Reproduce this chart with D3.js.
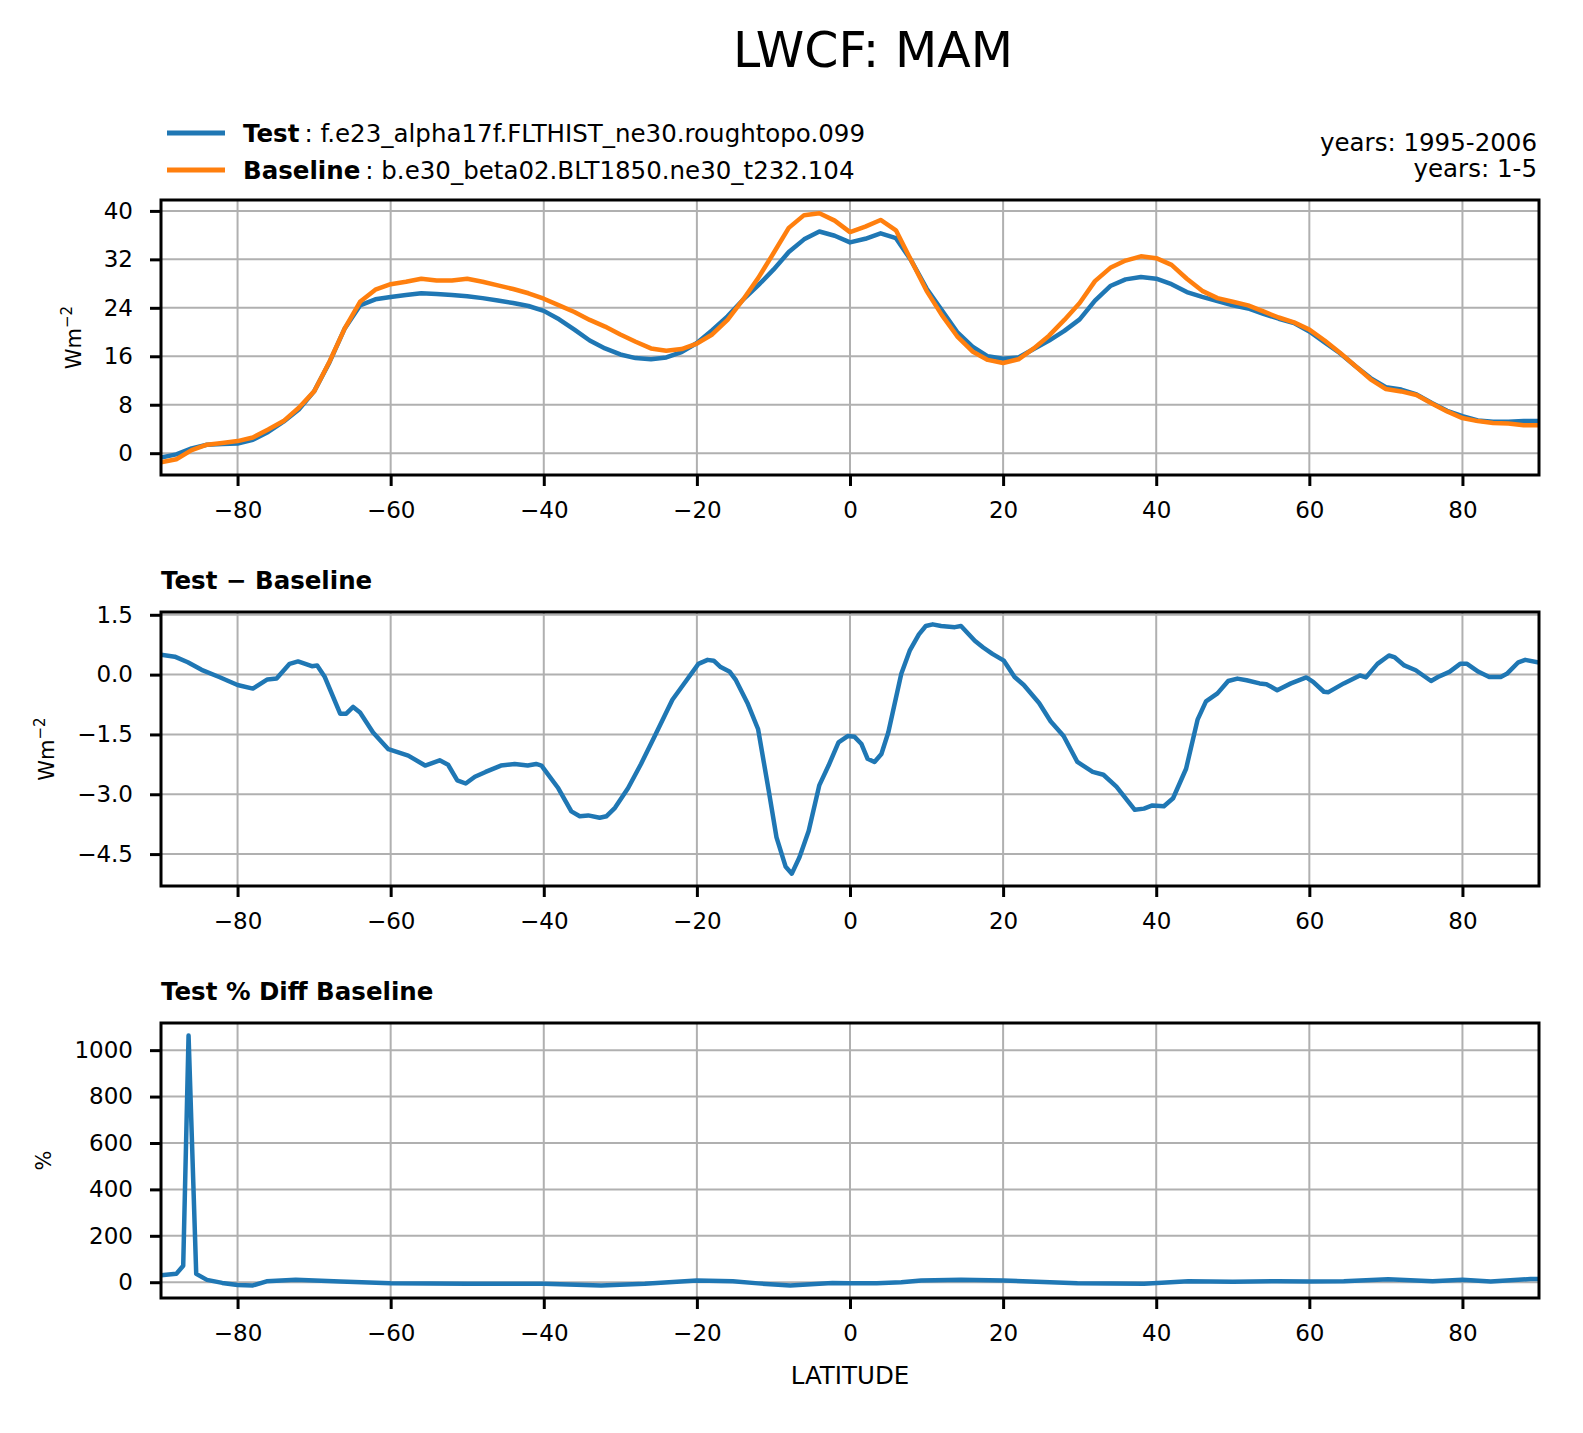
<!DOCTYPE html>
<html lang="en">
<head>
  <meta charset="UTF-8">
  <title>LWCF: MAM</title>
  <style>
    html, body { margin: 0; padding: 0; background: #fff; }
    svg { display: block; font-family: "DejaVu Sans", sans-serif; }
  </style>
</head>
<body>
  <svg id="chart"></svg>

  <script src="https://cdn.jsdelivr.net/npm/d3@7"></script>
  <script>
    // zonal means
    const latitudes = [-90,-88,-86,-84,-82,-80,-78,-76,-74,-72,-70,-68,-66,-64,-62,-60,-58,-56,-54,-52,-50,-48,-46,-44,-42,-40,
      -38,-36,-34,-32,-30,-28,-26,-24,-22,-20,-18,-16,-14,-12,-10,-8,-6,-4,-2,0,2,4,6,8,10,12,14,16,18,20,22,24,26,28,30,
      32,34,36,38,40,42,44,46,48,50,52,54,56,58,60,62,64,66,68,70,72,74,76,78,80,82,84,86,88,90]
    const testLWCF = [-0.7,-0.2,0.8,1.4,1.5,1.6,2.2,3.5,5.2,7.2,10.2,15.0,20.6,24.4,25.4,25.8,26.1,26.4,26.3,26.1,25.9,25.6,25.2,24.8,24.3,23.5,
      22.1,20.4,18.6,17.3,16.3,15.7,15.5,15.8,16.7,18.2,20.3,22.6,25.3,27.7,30.3,33.2,35.3,36.6,35.9,34.8,35.4,36.3,35.5,31.8,27.2,23.6,20.0,17.6,16.0,15.6,15.8,17.2,18.6,20.2,22.1,
      25.2,27.6,28.7,29.1,28.8,27.9,26.6,25.8,25.1,24.4,23.9,23.0,22.2,21.5,20.1,18.3,16.5,14.4,12.4,10.9,10.5,9.7,8.3,7.0,6.1,5.4,5.2,5.2,5.3,5.3]
    const baseLWCF = [-1.5,-1.0,0.5,1.4,1.7,2.0,2.6,3.9,5.3,7.5,10.2,15.1,20.6,25.0,27.0,27.9,28.3,28.8,28.5,28.5,28.8,28.3,27.7,27.1,26.4,25.5,
      24.4,23.3,22.0,20.9,19.6,18.4,17.3,16.9,17.2,18.1,19.6,22.0,25.3,28.9,33.0,37.2,39.3,39.6,38.4,36.5,37.4,38.5,36.8,31.8,26.8,22.8,19.3,16.8,15.4,14.9,15.5,17.3,19.4,22.0,24.8,
      28.4,30.6,31.8,32.5,32.2,31.1,28.8,26.8,25.6,25.0,24.4,23.4,22.4,21.6,20.4,18.6,16.6,14.4,12.2,10.6,10.2,9.6,8.2,6.9,5.8,5.3,5.0,4.9,4.6,4.6]

    const diffLat = [-90,-88.2,-86.5,-84.7,-82.4,-80,-78,-76.1,-74.9,-73.2,-72.1,-70.3,-69.6,-68.6,-66.6,-65.8,-64.9,-64,-62.3,-60.3,
      -57.7,-55.5,-53.6,-52.5,-51.3,-50.2,-49,-47.6,-45.6,-43.8,-42.1,-41,-40.3,-38.1,-36.4,-35.3,-34.2,-32.7,-31.8,-30.7,
      -29,-27.3,-25.5,-23.2,-21.8,-19.8,-18.6,-17.8,-16.9,-15.7,-14.9,-13.4,-12,-10.6,-9.6,-8.4,-7.6,-6.6,-5.4,-4,
      -2.8,-1.5,-0.3,0.6,1.5,2.3,3.2,4.1,5,6.7,7.8,9,9.9,10.8,11.9,13.7,14.5,16.3,17.4,18.6,
      20.1,21.5,22.7,24.7,26.2,27.9,29.7,31.7,33.1,34.8,37.2,38.4,39.5,41,42.2,43.9,45.4,46.5,48,49.4,
      50.6,51.8,53.5,54.4,55.8,57.6,59.6,60.5,61.9,62.5,64.5,66.6,67.4,68.9,70.4,71.1,72.4,73.9,75.9,76.8,
      78.3,79.7,80.6,82.1,83.5,85,85.8,87.3,88.2,90]
    const diffLWCF = [0.50,0.45,0.31,0.12,-0.06,-0.26,-0.35,-0.12,-0.10,0.27,0.33,0.21,0.23,-0.06,-0.98,-0.98,-0.81,-0.95,-1.45,-1.87,
      -2.03,-2.28,-2.15,-2.26,-2.65,-2.73,-2.56,-2.44,-2.28,-2.24,-2.28,-2.24,-2.28,-2.85,-3.43,-3.55,-3.53,-3.59,-3.55,-3.34,
      -2.85,-2.24,-1.54,-0.63,-0.26,0.27,0.37,0.35,0.19,0.07,-0.14,-0.71,-1.37,-2.93,-4.08,-4.82,-4.99,-4.58,-3.92,-2.77,
      -2.28,-1.70,-1.54,-1.56,-1.74,-2.11,-2.19,-1.99,-1.45,0.02,0.60,1.01,1.22,1.26,1.22,1.19,1.22,0.85,0.68,0.52,
      0.35,-0.06,-0.26,-0.71,-1.17,-1.54,-2.19,-2.44,-2.51,-2.81,-3.39,-3.36,-3.28,-3.30,-3.10,-2.36,-1.13,-0.67,-0.47,-0.16,
      -0.10,-0.14,-0.22,-0.24,-0.39,-0.22,-0.07,-0.18,-0.43,-0.44,-0.22,-0.02,-0.07,0.27,0.48,0.44,0.23,0.11,-0.16,-0.06,
      0.07,0.27,0.27,0.07,-0.06,-0.06,0.02,0.31,0.37,0.30]

    const pctLat = [-90,-88,-87.1,-86.4,-85.4,-84,-82,-80,-78,-76.2,-72.4,-66.6,-60,-50,-40,-32.5,-26.8,-20,-15.3,-12,
      -7.8,-4,-2.3,0,3.5,6.7,9.3,14.5,20,29.7,38.4,44.2,50,55.8,60,64.5,70.3,76.1,80,83.7,88.9,90]
    const pctDiff = [30,36,71,1063,36,10,-3,-12,-14,4,11,3,-4,-7,-7,-14,-7,7,4,-5,
      -14,-7,-3,-4,-4,0,7,11,7,-4,-7,4,2,4,3,4,13,4,11,3,14,14]

    const latTicks = [-80, -60, -40, -20, 0, 20, 40, 60, 80]
    const topTicks = [0, 8, 16, 24, 32, 40]
    const diffTicks = [-4.5, -3.0, -1.5, 0.0, 1.5]
    const pctTicks = [0, 200, 400, 600, 800, 1000]

    const legendNames = ['Test', 'Baseline']
    const legendCases = ['f.e23_alpha17f.FLTHIST_ne30.roughtopo.099', 'b.e30_beta02.BLT1850.ne30_t232.104']
    const yearLabels = ['years: 1995-2006', 'years: 1-5']

    const blue = '#1f77b4'
    const orange = '#ff7f0e'
    const W = 1583, H = 1433
    const left = 161, right = 1539
    const tickFont = 23
    const textFont = 24.5

    const svg = d3.select('#chart').attr('width', W).attr('height', H)
    const x = d3.scaleLinear().domain([-90, 90]).range([left, right])

    svg.append('text')
      .attr('x', 873).attr('y', 50)
      .attr('text-anchor', 'middle').attr('dominant-baseline', 'central')
      .attr('font-size', 49)
      .text('LWCF: MAM')

    // legend
    const legend = svg.append('g')
    legendNames.forEach((name, i) => {
      const ly = 133 + i * 37
      legend.append('line')
        .attr('x1', 167).attr('x2', 225).attr('y1', ly).attr('y2', ly)
        .attr('stroke', i === 0 ? blue : orange).attr('stroke-width', 5)
      const t = legend.append('text')
        .attr('x', 243).attr('y', ly).attr('dominant-baseline', 'central')
        .attr('font-size', textFont)
      t.append('tspan').attr('font-weight', 'bold').text(name)
      t.append('tspan').attr('dx', 5).text(': ' + legendCases[i])
    })
    yearLabels.forEach((s, i) => {
      svg.append('text')
        .attr('x', 1537).attr('y', 142 + i * 26)
        .attr('text-anchor', 'end').attr('dominant-baseline', 'central')
        .attr('font-size', textFont)
        .text(s)
    })

    const panels = [
      {id: 'top', top: 200, bottom: 475, domain: [-3.6, 41.8], ticks: topTicks, fmt: d3.format('d'),
        unit: 'Wm', sup: '\u22122',
        series: [[latitudes, testLWCF, blue], [latitudes, baseLWCF, orange]]},
      {id: 'diff', top: 612, bottom: 886, domain: [-5.3, 1.57], ticks: diffTicks, fmt: d3.format('.1f'),
        unit: 'Wm', sup: '\u22122', title: 'Test \u2212 Baseline',
        series: [[diffLat, diffLWCF, blue]]},
      {id: 'pct', top: 1023, bottom: 1298, domain: [-68, 1117], ticks: pctTicks, fmt: d3.format('d'),
        unit: '%', title: 'Test % Diff Baseline',
        series: [[pctLat, pctDiff, blue]]}
    ]

    panels.forEach(p => {
      const y = d3.scaleLinear().domain(p.domain).range([p.bottom, p.top])
      const g = svg.append('g')

      // grid
      g.append('g').selectAll('line').data(latTicks).join('line')
        .attr('x1', d => x(d)).attr('x2', d => x(d))
        .attr('y1', p.top).attr('y2', p.bottom)
        .attr('stroke', '#b0b0b0').attr('stroke-width', 2)
      g.append('g').selectAll('line').data(p.ticks).join('line')
        .attr('x1', left).attr('x2', right)
        .attr('y1', d => y(d)).attr('y2', d => y(d))
        .attr('stroke', '#b0b0b0').attr('stroke-width', 2)

      svg.append('clipPath').attr('id', 'clip-' + p.id)
        .append('rect')
        .attr('x', left).attr('y', p.top)
        .attr('width', right - left).attr('height', p.bottom - p.top)

      const line = d3.line().x(d => x(d[0])).y(d => y(d[1]))
      p.series.forEach(([lats, vals, color]) => {
        g.append('path')
          .datum(d3.zip(lats, vals))
          .attr('d', line)
          .attr('clip-path', `url(#clip-${p.id})`)
          .attr('fill', 'none')
          .attr('stroke', color)
          .attr('stroke-width', 4.5)
          .attr('stroke-linejoin', 'round')
      })

      g.append('rect')
        .attr('x', left).attr('y', p.top)
        .attr('width', right - left).attr('height', p.bottom - p.top)
        .attr('fill', 'none').attr('stroke', '#000').attr('stroke-width', 3)

      const xAxis = g.append('g')
        .attr('transform', `translate(0,${p.bottom})`)
        .call(d3.axisBottom(x).tickValues(latTicks).tickFormat(d3.format('d')).tickSize(11).tickPadding(16))
      const yAxis = g.append('g')
        .attr('transform', `translate(${left},0)`)
        .call(d3.axisLeft(y).tickValues(p.ticks).tickFormat(p.fmt).tickSize(11).tickPadding(17))
      ;[xAxis, yAxis].forEach(a => {
        a.select('.domain').remove()
        a.selectAll('.tick line').attr('stroke', '#000').attr('stroke-width', 3)
        a.selectAll('.tick text').attr('fill', '#000').attr('font-size', tickFont)
          .attr('font-family', '"DejaVu Sans", sans-serif')
      })

      // y label, placed left of the tick labels
      const bb = yAxis.node().getBBox()
      const lx = left + bb.x - 23
      const cy = (p.top + p.bottom) / 2
      const lab = svg.append('text')
        .attr('transform', `translate(${lx},${cy}) rotate(-90)`)
        .attr('text-anchor', 'middle')
        .attr('font-size', 21)
      lab.append('tspan').text(p.unit)
      if (p.sup) lab.append('tspan').attr('dy', -9).attr('font-size', 15).text(p.sup)

      if (p.title) {
        svg.append('text')
          .attr('x', left).attr('y', p.top - 32)
          .attr('dominant-baseline', 'central')
          .attr('font-size', textFont).attr('font-weight', 'bold')
          .text(p.title)
      }
    })

    svg.append('text')
      .attr('x', (left + right) / 2).attr('y', 1375)
      .attr('text-anchor', 'middle').attr('dominant-baseline', 'central')
      .attr('font-size', textFont)
      .text('LATITUDE')
  </script>
</body>
</html>
